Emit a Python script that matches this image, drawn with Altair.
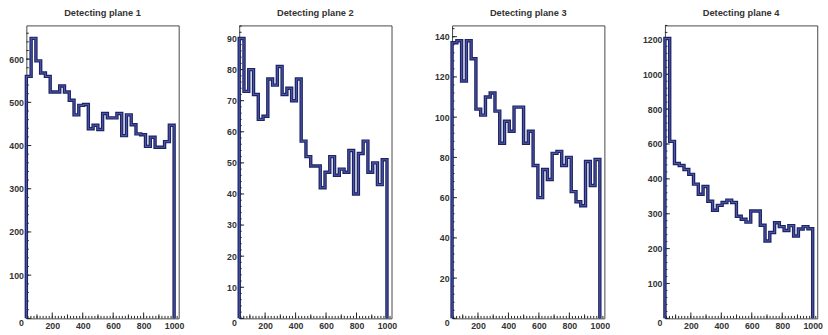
import altair as alt
import pandas as pd

# ---------------- data ----------------
titles = ["Detecting plane 1", "Detecting plane 2", "Detecting plane 3", "Detecting plane 4"]

x_start = 30
x_end = 1000
x_domain = [30, 1030]
x_label_values = [200, 400, 600, 800, 1000]

plane1 = [560, 648, 596, 568, 560, 524, 524, 538, 524, 505, 471, 493, 495, 439, 447, 437,
          474, 464, 464, 474, 423, 471, 448, 427, 425, 398, 419, 396, 396, 409, 447]
plane2 = [90, 73, 80, 72, 64, 65, 77, 75, 81, 72, 74, 70, 77, 57, 52, 49,
          49, 42, 47, 52, 46, 48, 47, 54, 40, 53, 57, 47, 50, 43, 51]
plane3 = [137, 138, 118, 138, 129, 104, 101, 110, 112, 103, 87, 98, 93, 105, 105, 87,
          93, 76, 60, 74, 69, 82, 83, 76, 80, 63, 58, 56, 78, 66, 79]
plane4 = [1205, 615, 488, 477, 454, 426, 385, 356, 378, 336, 310, 324, 332, 339, 332, 293,
          284, 276, 308, 308, 267, 222, 246, 274, 263, 252, 266, 236, 256, 263, 257]
series = [plane1, plane2, plane3, plane4]

y_labels1 = [0, 100, 200, 300, 400, 500, 600]
y_labels2 = [0, 10, 20, 30, 40, 50, 60, 70, 80, 90]
y_labels3 = [0, 20, 40, 60, 80, 100, 120, 140]
y_labels4 = [0, 100, 200, 300, 400, 600, 800, 1000, 1200]
y_labels = [y_labels1, y_labels2, y_labels3, y_labels4]
y_tops = [678, 94.2, 145.6, 1280]

# ---------------- layout ----------------
W = 156
H = 300
NAVY = "#1d2363"
INNER = "#4d58a8"
FONT = "Liberation Sans"


def step_frame(values):
    n = len(values)
    w = (x_end - x_start) / n
    xs = [x_start] + [x_start + i * w for i in range(n)] + [x_end]
    ys = [0] + list(values) + [0]
    return pd.DataFrame({"i": list(range(len(xs))), "x": xs, "y": ys})


def frange(a, b, s):
    out = []
    v = a
    while v <= b + 1e-9:
        out.append(round(v, 6))
        v += s
    return out


def y_scale(k):
    if k < 3:
        return alt.Scale(domain=[0, y_tops[k]], nice=False, zero=False)
    dom = y_labels4 + [y_tops[3]]
    step = H / 8.4
    rng = [H - j * step for j in range(9)] + [0]
    return alt.Scale(domain=dom, range=rng, nice=False, zero=False)


def y_minor(k):
    if k == 0:
        return frange(0, 670, 20)
    if k == 1:
        return frange(0, 94, 2)
    if k == 2:
        return frange(0, 144, 4)
    return frange(0, 400, 20) + frange(440, 1280, 40)


def panel(k):
    df = step_frame(series[k])
    xs = alt.Scale(domain=x_domain, nice=False, zero=False)
    ys = y_scale(k)
    x_axis = alt.Axis(values=x_label_values, ticks=False, domain=False, grid=False, title=None,
                      labelPadding=3, labelFlush=False, labelOverlap=False, format="d")
    y_axis = alt.Axis(values=y_labels[k], ticks=False, domain=False, grid=False, title=None,
                      labelPadding=3, minExtent=25, maxExtent=25, labelOverlap=False,
                      format="d", labelFlush=False,
                      labelBaseline={"condition": {"test": "datum.value == 0", "value": "top"},
                                     "value": "middle"})
    x_enc = alt.X("x:Q", scale=xs, axis=x_axis)
    y_enc = alt.Y("y:Q", scale=ys, axis=y_axis)

    x_major = pd.DataFrame({"x": [200, 400, 600, 800, 1000]})
    x_mid = pd.DataFrame({"x": [100, 300, 500, 700, 900]})
    x_min = pd.DataFrame({"x": frange(40, 1020, 20)})
    y_major = pd.DataFrame({"y": y_labels[k]})
    y_min = pd.DataFrame({"y": y_minor(k)})

    layers = []
    for d, ln in ((x_major, 6), (x_mid, 4), (x_min, 2.5)):
        layers.append(alt.Chart(d).mark_rule(color="#222", strokeWidth=1).encode(
            x=x_enc, y=alt.value(H), y2=alt.value(H - ln)))
    for d, ln in ((y_major, 5), (y_min, 2.5)):
        layers.append(alt.Chart(d).mark_rule(color="#222", strokeWidth=1).encode(
            y=y_enc, x=alt.value(0), x2=alt.value(ln)))

    base = alt.Chart(df)
    outer = base.mark_line(interpolate="step-after", color=NAVY, strokeWidth=3.5).encode(
        x=x_enc, y=y_enc, order="i:Q")
    inner = base.mark_line(interpolate="step-after", color=INNER, strokeWidth=1.1).encode(
        x=x_enc, y=y_enc, order="i:Q")
    layers += [outer, inner]

    return alt.layer(*layers).properties(
        width=W, height=H,
        title=alt.TitleParams(titles[k], fontSize=9.5, font=FONT, fontWeight="bold",
                              color="#333", offset=8, anchor="middle"))


chart = alt.hconcat(*[panel(k) for k in range(4)], spacing=30).properties(
    padding={"left": 1, "top": 3, "right": 5, "bottom": 0}
).configure_view(stroke="#444", strokeWidth=1).configure_axis(
    labelFont=FONT, labelFontSize=9, labelColor="#333", labelFontWeight="bold"
)

chart.save("out.html", embed_options={"renderer": "svg", "actions": False})
